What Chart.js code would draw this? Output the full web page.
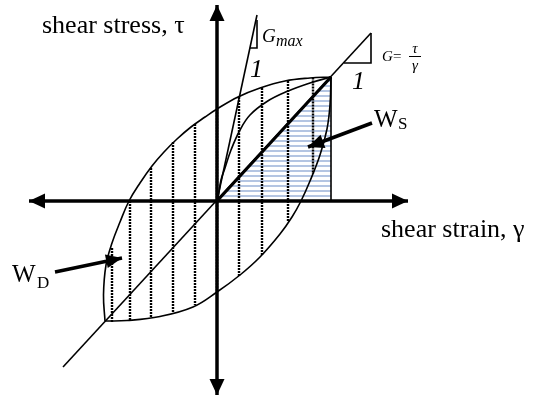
<!DOCTYPE html>
<html><head><meta charset="utf-8">
<script src="https://cdn.jsdelivr.net/npm/chart.js@4.4.1/dist/chart.umd.min.js"></script>
<style>html,body{margin:0;padding:0;background:#fff;overflow:hidden}canvas{display:block}</style>
</head><body>
<canvas id="c" width="534" height="399"></canvas>
<script>
// ---- data (strain = x, stress = y, in drawing units with origin at 0,0) ----
const strainAxisEnds = [-188, 191];
const stressAxisEnds = [-194, 196];

const upperStrain = [-112,-113.5,-111,-105,-97,-88,-77,-65,-53,-40,-26,-12,0,21,43,68,93,114];
const upperStress = [-120,-94,-64,-42,-21,0,18,35,49,62,74,84,92,104,113,120,123,124];

const lowerStrain = [-112,-90,-57,-24,0,23,43,63,75,84,93,103,110,113,114];
const lowerStress = [-120,-119.5,-115.5,-106,-91,-74,-56,-33,-16,0,20,46,72,96,124];

const backboneStrain = [0,1.5,4,8,14,23,33,50,70,93,114];
const backboneStress = [0,6,21,33,51,71,86,99.5,109.5,118,124];

const peakStrain = 114, peakStress = 124;
const secantStrain = [-154, 154];
const secantStress = [-166, 168];
const gmaxStrain = [0, 40];
const gmaxStress = [0, 186];
const gmaxTriStrain = [33, 40, 40];
const gmaxTriStress = [153, 153, 181];
const secTriStrain = [127, 154, 154];
const secTriStress = [138, 138, 168];

const hatchStrain = [-105,-87,-66,-44,-22,0,22,45,71,96];
const hatchTop    = [-47,0,33,59,77,92,104,113,120,123.5];
const hatchBottom = [-121,-119,-117,-112,-104,-91,-75,-54,-21,27];

const wsArrowStrain = [155, 91];
const wsArrowStress = [78, 54];
const wdArrowStrain = [-162, -95];
const wdArrowStress = [-71, -57];

// ---- helpers ----
const pts = (xs, ys) => xs.map((x, i) => ({x, y: ys[i]}));
const hatchData = [];
hatchStrain.forEach((x, i) => {
  hatchData.push({x, y: hatchTop[i]}, {x, y: hatchBottom[i]}, {x, y: null});
});

const canvas = document.getElementById('c');
const ctx0 = canvas.getContext('2d');
const sc = document.createElement('canvas');
sc.width = 8; sc.height = 5;
const sg = sc.getContext('2d');
sg.fillStyle = '#b4c5e2';
sg.fillRect(0, 0, 8, 2);
const stripePattern = ctx0.createPattern(sc, 'repeat');

const base = {pointRadius: 0, fill: false, borderColor: '#000', tension: 0, borderCapStyle: 'butt'};
const ds = (data, extra) => Object.assign({}, base, {data}, extra || {});

const datasets = [
  ds(pts([0, peakStrain, peakStrain], [0, peakStress, 0]), {fill: 'origin', backgroundColor: stripePattern, borderWidth: 0, order: 20}),
  ds(hatchData, {borderWidth: 2.4, borderDash: [2, 1], borderColor: '#000', order: 15}),
  ds(pts(upperStrain, upperStress), {borderWidth: 1.6, tension: 0.4, order: 10}),
  ds(pts(lowerStrain, lowerStress), {borderWidth: 1.6, tension: 0.4, order: 10}),
  ds(pts(backboneStrain, backboneStress), {borderWidth: 1.6, tension: 0.4, order: 10}),
  ds(pts(secantStrain, secantStress), {borderWidth: 1.6, order: 9}),
  ds(pts([0, peakStrain], [0, peakStress]), {borderWidth: 3.2, order: 8}),
  ds(pts([peakStrain, peakStrain], [peakStress, 0]), {borderWidth: 1.6, order: 8}),
  ds(pts(gmaxStrain, gmaxStress), {borderWidth: 1.6, order: 8}),
  ds(pts(gmaxTriStrain, gmaxTriStress), {borderWidth: 1.6, order: 8}),
  ds(pts(secTriStrain, secTriStress), {borderWidth: 1.6, order: 8}),
  ds(pts(strainAxisEnds, [0, 0]), {borderWidth: 3.5, order: 2, arrowStart: [16, 7.5], arrowEnd: [16, 7.5]}),
  ds(pts([0, 0], stressAxisEnds), {borderWidth: 3.5, order: 2, arrowStart: [16, 7.5], arrowEnd: [16, 7.5]}),
  ds(pts(wsArrowStrain, wsArrowStress), {borderWidth: 3.5, order: 2, arrowEnd: [16, 7]}),
  ds(pts(wdArrowStrain, wdArrowStress), {borderWidth: 3.5, order: 2, arrowEnd: [16, 7]})
];

function drawHead(ctx, tip, from, L, H) {
  const a = Math.atan2(tip.y - from.y, tip.x - from.x);
  const c = Math.cos(a), s = Math.sin(a);
  const bx = tip.x - L * c, by = tip.y - L * s;
  ctx.beginPath();
  ctx.moveTo(tip.x, tip.y);
  ctx.lineTo(bx - H * s, by + H * c);
  ctx.lineTo(bx + H * s, by - H * c);
  ctx.closePath();
  ctx.fill();
}

const arrowPlugin = {
  id: 'arrows',
  afterDatasetsDraw(chart) {
    const ctx = chart.ctx;
    ctx.save();
    ctx.fillStyle = '#000';
    chart.data.datasets.forEach((d, i) => {
      const p = chart.getDatasetMeta(i).data;
      if (d.arrowEnd) drawHead(ctx, p[p.length - 1], p[p.length - 2], d.arrowEnd[0], d.arrowEnd[1]);
      if (d.arrowStart) drawHead(ctx, p[0], p[1], d.arrowStart[0], d.arrowStart[1]);
    });
    ctx.restore();
  }
};

const SERIF = '"Liberation Serif", "Times New Roman", serif';
const labels = [
  {t: 'shear stress, τ', x: 42, y: 33, f: '26px ' + SERIF},
  {t: 'shear strain, γ', x: 381, y: 237, f: '26px ' + SERIF},
  {t: 'W', x: 374, y: 127, f: '25px ' + SERIF},
  {t: 'S', x: 398, y: 129, f: '17px ' + SERIF},
  {t: 'W', x: 12, y: 282, f: '25px ' + SERIF},
  {t: 'D', x: 37, y: 288, f: '17px ' + SERIF},
  {t: 'G', x: 262, y: 42, f: 'italic 19px ' + SERIF},
  {t: 'max', x: 276, y: 46, f: 'italic 16px ' + SERIF},
  {t: '1', x: 250, y: 77, f: 'italic 26px ' + SERIF},
  {t: '1', x: 352, y: 89, f: 'italic 26px ' + SERIF},
  {t: 'G', x: 382, y: 61, f: 'italic 15px ' + SERIF},
  {t: '=', x: 393, y: 61, f: '15px ' + SERIF},
  {t: 'τ', x: 415, y: 53, f: 'italic 15px ' + SERIF, c: true},
  {t: 'γ', x: 415, y: 70, f: 'italic 15px ' + SERIF, c: true}
];

const textPlugin = {
  id: 'texts',
  afterDraw(chart) {
    const ctx = chart.ctx;
    ctx.save();
    ctx.fillStyle = '#000';
    ctx.textBaseline = 'alphabetic';
    labels.forEach(l => {
      ctx.font = l.f;
      ctx.textAlign = l.c ? 'center' : 'left';
      ctx.fillText(l.t, l.x, l.y);
    });
    ctx.strokeStyle = '#000';
    ctx.lineWidth = 1;
    ctx.beginPath();
    ctx.moveTo(409, 56.5); ctx.lineTo(421, 56.5);
    ctx.stroke();
    ctx.restore();
  }
};

new Chart(canvas, {
  type: 'line',
  data: {datasets},
  options: {
    responsive: false,
    animation: false,
    devicePixelRatio: 1,
    layout: {padding: 0},
    plugins: {legend: {display: false}, tooltip: {enabled: false}},
    scales: {
      x: {type: 'linear', min: -217, max: 317, display: false},
      y: {type: 'linear', min: -198, max: 201, display: false}
    },
    elements: {line: {capBezierPoints: false}}
  },
  plugins: [arrowPlugin, textPlugin]
});
</script>
</body></html>
